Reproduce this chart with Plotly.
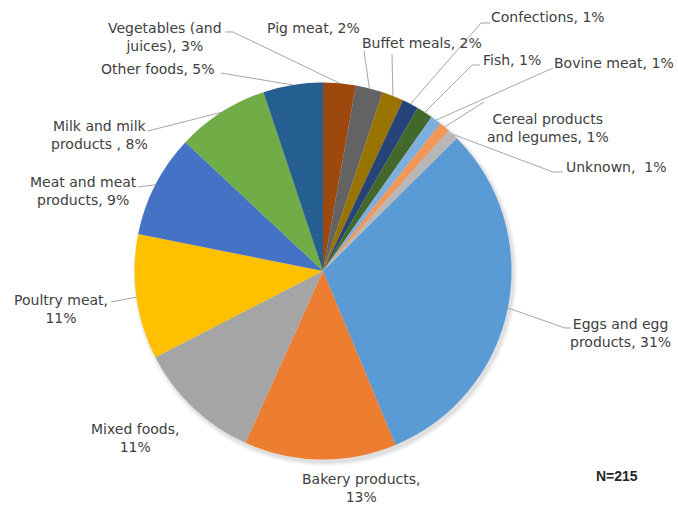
import math
import plotly.graph_objects as go

W, H = 678, 506

# Food categories of the outbreaks (N=215), in slice order
categories = [
    "Eggs and egg products", "Bakery products", "Mixed foods", "Poultry meat",
    "Meat and meat products", "Milk and milk products", "Other foods",
    "Vegetables (and juices)", "Pig meat", "Buffet meals", "Confections",
    "Fish", "Bovine meat", "Cereal products and legumes", "Unknown",
]
counts = [67, 28, 23, 23, 19, 17, 11, 6, 5, 4, 3, 3, 2, 2, 2]
colors = [
    "#5B9BD5", "#ED7D31", "#A5A5A5", "#FFC000", "#4472C4", "#70AD47", "#255E91",
    "#9E480E", "#636363", "#997300", "#264478", "#43682B", "#7CAFDD", "#F1975A",
    "#B7B7B7",
]
label_formats = [
    "Eggs and egg<br>products, {}%", "Bakery products,<br>{}%", "Mixed foods,<br>{}%",
    "Poultry meat,<br>{}%", "Meat and meat<br>products, {}%", "Milk and milk<br>products , {}%",
    "Other foods, {}%", "Vegetables (and<br>juices), {}%", "Pig meat, {}%",
    "Buffet meals, {}%", "Confections, {}%", "Fish, {}%", "Bovine meat, {}%",
    "Cereal products<br>and legumes, {}%", "Unknown,  {}%",
]

# Label placement (pixel centres) and leader-line points next to each label
label_pos = [
    (620, 333), (361, 488), (135, 438), (61, 309), (83, 191), (99, 135),
    (158, 69), (165, 37), (313, 28), (422, 43), (548, 17), (512, 60),
    (614, 63), (548, 128), (616, 167),
]
leader_pts = [
    [(571, 328), (565, 328)], None, None, [(111, 302)], [(138, 187)], [(148, 131)],
    [(221, 73)], [(225, 32), (233, 32)], [(364, 51)], [(392, 54)],
    [(490, 23), (481, 23)], [(480, 65), (472, 65)], [(553, 68)], [(484, 102)],
    [(563, 172), (553, 172)],
]

# Pie geometry in pixels
CX, CY, R = 323.0, 271.0, 188.5


def px(x):
    return x / W


def py(y):
    return 1 - y / H


total = sum(counts)
# the slices after "Other foods" fill the arc just left of 12 o'clock
rotation = 360.0 * sum(counts[7:]) / total

fig = go.Figure(go.Pie(
    labels=categories,
    values=counts,
    marker=dict(colors=colors, line=dict(width=0)),
    sort=False,
    direction="clockwise",
    rotation=rotation,
    textinfo="none",
    hoverinfo="label+value+percent",
    showlegend=False,
    domain=dict(x=[px(CX - R), px(CX + R)], y=[py(CY + R), py(CY - R)]),
))

shapes = []
# soft drop shadow under the pie
for dr, op in [(4, 0.03), (2.5, 0.04), (1, 0.05)]:
    sx, sy = CX + 2, CY + 3
    shapes.append(dict(
        type="circle", xref="paper", yref="paper", layer="below",
        x0=px(sx - R - dr), x1=px(sx + R + dr), y0=py(sy + R + dr), y1=py(sy - R - dr),
        fillcolor=f"rgba(0,0,0,{op})", line=dict(width=0),
    ))

annotations = []
cum = 0
for i, v in enumerate(counts):
    mid = math.radians(rotation + 360.0 * (cum + v / 2) / total)
    cum += v
    ex, ey = CX + R * math.sin(mid), CY - R * math.cos(mid)
    pct = round(100 * v / total)
    lx, ly = label_pos[i]
    annotations.append(dict(
        x=px(lx), y=py(ly), xref="paper", yref="paper",
        text=label_formats[i].format(pct), showarrow=False,
        xanchor="center", yanchor="middle", align="center",
        font=dict(family="DejaVu Sans", size=14, color="#404040"),
    ))
    if leader_pts[i]:
        pts = leader_pts[i] + [(ex, ey)]
        path = "M " + " L ".join(f"{px(a):.5f},{py(b):.5f}" for a, b in pts)
        shapes.append(dict(
            type="path", path=path, xref="paper", yref="paper", layer="above",
            line=dict(color="#A6A6A6", width=1),
        ))

annotations.append(dict(
    x=px(617), y=py(476), xref="paper", yref="paper", text="<b>N=215</b>",
    showarrow=False, xanchor="center", yanchor="middle",
    font=dict(family="Liberation Sans", size=14, color="#262626"),
))

fig.update_layout(
    width=W, height=H,
    margin=dict(l=0, r=0, t=0, b=0),
    paper_bgcolor="white", plot_bgcolor="white",
    shapes=shapes, annotations=annotations,
)

fig.write_html("out.html")
